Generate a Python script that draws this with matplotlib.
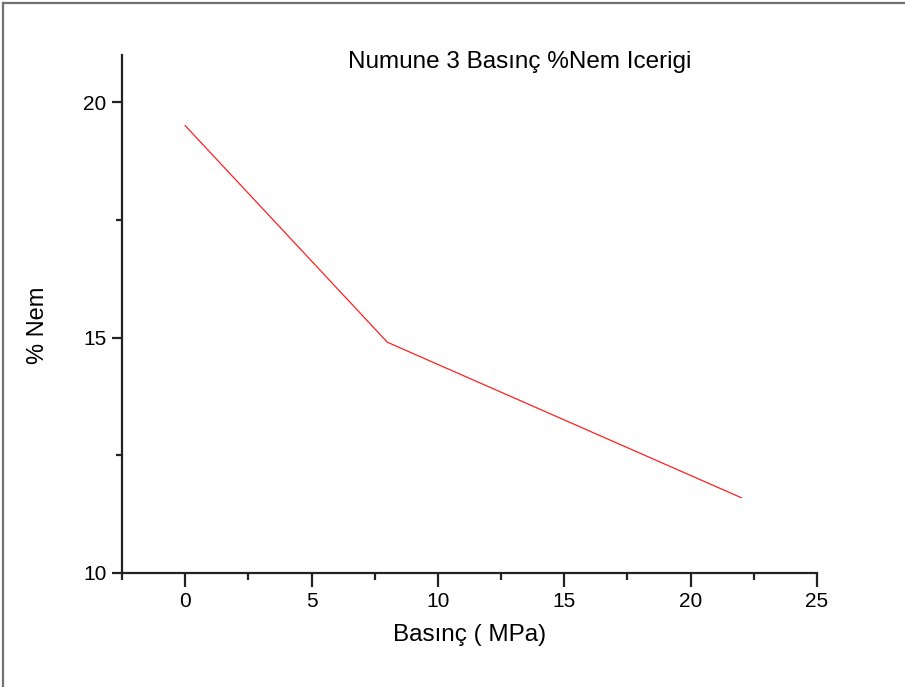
import matplotlib
matplotlib.use("Agg")
import matplotlib.pyplot as plt
from matplotlib.lines import Line2D
from matplotlib.ticker import MultipleLocator

plt.rcParams['font.family'] = ['Liberation Sans', 'DejaVu Sans']

pressure = [0, 8, 22]
moisture = [19.5, 14.9, 11.6]
title = "Numune 3 Basınç %Nem Icerigi"
xlabel = "Basınç ( MPa)"
ylabel = "% Nem"

W, H = 905, 687
fig = plt.figure(figsize=(W / 100, H / 100), dpi=100)
fig.patch.set_facecolor('white')

ax = fig.add_axes([122 / W, 1 - 573 / H, (817 - 122) / W, (573 - 55) / H])
ax.plot(pressure, moisture, color='#ff2020', lw=0.9)
ax.set_xlim(-2.5, 25)
ax.set_ylim(10, 21)
ax.xaxis.set_major_locator(MultipleLocator(5))
ax.xaxis.set_minor_locator(MultipleLocator(2.5))
ax.yaxis.set_major_locator(MultipleLocator(5))
ax.yaxis.set_minor_locator(MultipleLocator(2.5))
for s in ['top', 'right']:
    ax.spines[s].set_visible(False)
for s in ['left', 'bottom']:
    ax.spines[s].set_linewidth(1.6)
    ax.spines[s].set_color('#222222')
ax.tick_params(axis='x', which='major', direction='out', length=10, width=1.6, labelsize=15, pad=4, color='#222222')
ax.tick_params(axis='x', which='minor', direction='out', length=5, width=1.6, color='#222222')
ax.tick_params(axis='y', which='major', direction='out', length=7, width=1.6, labelsize=15, pad=4, color='#222222')
ax.tick_params(axis='y', which='minor', direction='out', length=4, width=1.6, color='#222222')

fig.text(520 / W, 1 - 62 / H, title, ha='center', va='center', fontsize=17.5)
fig.text(470 / W, 1 - 635 / H, xlabel, ha='center', va='center', fontsize=17.5)
fig.text(38 / W, 1 - 325 / H, ylabel, ha='center', va='center', fontsize=17, rotation=90)

# figure frame (top and left edges)
fig.add_artist(Line2D([3 / W, 3 / W], [0, 1 - 3 / H], transform=fig.transFigure, color='#707070', lw=1.6))
fig.add_artist(Line2D([3 / W, 1], [1 - 3 / H, 1 - 3 / H], transform=fig.transFigure, color='#707070', lw=1.6))

fig.savefig('out.png', dpi=100)
